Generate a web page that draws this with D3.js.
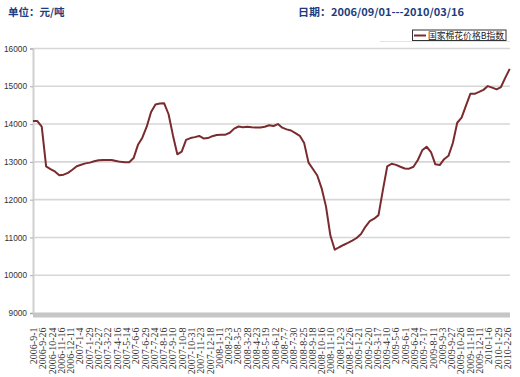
<!DOCTYPE html>
<html><head><meta charset="utf-8">
<script src="https://cdn.jsdelivr.net/npm/d3@7"></script>
<style>html,body{margin:0;padding:0;background:#fff;}svg{display:block;}</style>
</head><body>
<svg id="c" width="520" height="377"></svg>
<script>
// ---- data ----
const unitText = "单位：元/吨";
const dateText = "日期：2006/09/01---2010/03/16";
const seriesName = "国家棉花价格B指数";
// tick labels: one every 17 trading days
const tickLabels = ["2006-9-1","2006-9-26","2006-10-24","2006-11-16","2006-12-11","2007-1-4","2007-1-29","2007-2-27","2007-3-22","2007-4-16","2007-5-14","2007-6-6","2007-6-29","2007-7-24","2007-8-16","2007-9-10","2007-10-8","2007-10-31","2007-11-23","2007-12-18","2008-1-11","2008-2-3","2008-3-5","2008-3-28","2008-4-23","2008-5-19","2008-6-12","2008-7-7","2008-7-30","2008-8-25","2008-9-18","2008-10-16","2008-11-10","2008-12-3","2008-12-26","2009-1-21","2009-2-20","2009-3-17","2009-4-10","2009-5-6","2009-6-1","2009-6-24","2009-7-17","2009-8-11","2009-9-3","2009-9-27","2009-10-26","2009-11-18","2009-12-11","2010-1-6","2010-1-29","2010-2-26"];
const tickStep = 17;      // trading days between tick labels
const sampleStep = 8;     // trading days between sampled values
const lastDay = 872;      // trading-day index of 2010-3-16
// index values, sampled every 8 trading days (read from picture)
const values = [14080,14080,13930,12880,12810,12745,12645,12660,12710,12790,
12885,12925,12960,12980,13015,13045,13050,13050,13050,13025,
13000,12990,12990,13100,13450,13640,13930,14320,14520,14545,
14550,14260,13700,13200,13270,13580,13630,13655,13685,13620,
13630,13680,13710,13715,13720,13770,13880,13935,13915,13930,
13915,13910,13910,13930,13970,13950,14000,13905,13860,13830,
13760,13690,13500,12980,12810,12640,12300,11815,11050,10675,
10740,10800,10855,10915,10985,11090,11280,11430,11495,11590,
12250,12880,12950,12920,12870,12825,12820,12870,13050,13305,
13400,13260,12935,12915,13070,13160,13500,14035,14170,14490,
14800,14800,14850,14905,15005,14965,14920,14980,15230,15460];
const yTicks = [9000,10000,11000,12000,13000,14000,15000,16000];

// ---- drawing ----
const svg = d3.select("#c");
const L = 33, R = 509.7, T = 48.5, B = 313;
const x = d3.scaleLinear().domain([0, lastDay]).range([L, R]);
const y = d3.scaleLinear().domain([9000, 16000]).range([B, T]);

// titles
const titleColor = "#1b3c7e";
svg.append("text").attr("x", 8).attr("y", 15.5).text(unitText)
  .attr("font-family", "SimSun, 'Noto Sans CJK SC'").attr("font-weight", "bold")
  .attr("font-size", 10.5).attr("fill", titleColor);
svg.append("text").attr("x", 298).attr("y", 15.5).text(dateText)
  .attr("font-family", "SimSun, 'Noto Sans CJK SC'").attr("font-weight", "bold")
  .attr("font-size", 10.5).attr("fill", titleColor)
  .attr("textLength", 166).attr("lengthAdjust", "spacingAndGlyphs");

// faint top line near legend
svg.append("line").attr("x1", 380).attr("x2", 510).attr("y1", 41.5).attr("y2", 41.5)
  .attr("stroke", "#e4e4e4").attr("stroke-width", 1);

// gridlines
svg.append("g").selectAll("line").data(yTicks).join("line")
  .attr("x1", L).attr("x2", 510).attr("y1", d => y(d)).attr("y2", d => y(d))
  .attr("stroke", "#d6d6d6").attr("stroke-width", 1.6);

// y axis
const yAxis = d3.axisLeft(y).tickValues(yTicks).tickSize(3).tickPadding(3).tickFormat(d3.format("d"));
const gy = svg.append("g").attr("transform", `translate(${L},0)`).call(yAxis);
gy.select(".domain").attr("stroke", "#cfcfcf").attr("stroke-width", 2);
gy.selectAll(".tick line").attr("stroke", "#aaa");
gy.selectAll(".tick text").attr("font-family", "'Liberation Sans', Arial, sans-serif")
  .attr("font-size", 8.3).attr("fill", "#333");

// bottom grey band
svg.append("rect").attr("x", L).attr("y", B).attr("width", 510 - L).attr("height", 4.5)
  .attr("fill", "#c6c6c6");

// x tick labels
const gx = svg.append("g");
gx.selectAll("text").data(tickLabels).join("text")
  .attr("transform", (d, i) => `translate(${x(i * tickStep) + 0.5},327.5) rotate(-90)`)
  .attr("text-anchor", "end").attr("dy", "0.35em")
  .attr("font-family", "'Liberation Serif', 'Times New Roman', serif")
  .attr("font-size", 10).attr("fill", "#333")
  .text(d => d);

// line
const lineColor = "#7a2b2e";
const line = d3.line().x((d, i) => x(Math.min(i * sampleStep, lastDay))).y(d => y(d));
svg.append("path").datum(values).attr("d", line)
  .attr("fill", "none").attr("stroke", lineColor).attr("stroke-width", 2)
  .attr("stroke-linejoin", "round");

// legend
const lg = svg.append("g");
lg.append("rect").attr("x", 412.5).attr("y", 30).attr("width", 93.5).attr("height", 10.5)
  .attr("fill", "#fff").attr("stroke", "#333").attr("stroke-width", 1);
lg.append("line").attr("x1", 414).attr("x2", 426).attr("y1", 35.5).attr("y2", 35.5)
  .attr("stroke", lineColor).attr("stroke-width", 2);
lg.append("text").attr("x", 428).attr("y", 35.5).attr("dy", "0.36em").text(seriesName)
  .attr("font-family", "SimSun, 'Noto Sans CJK SC'").attr("font-size", 9).attr("fill", "#222")
  .attr("textLength", 76).attr("lengthAdjust", "spacingAndGlyphs");
</script>
</body></html>
